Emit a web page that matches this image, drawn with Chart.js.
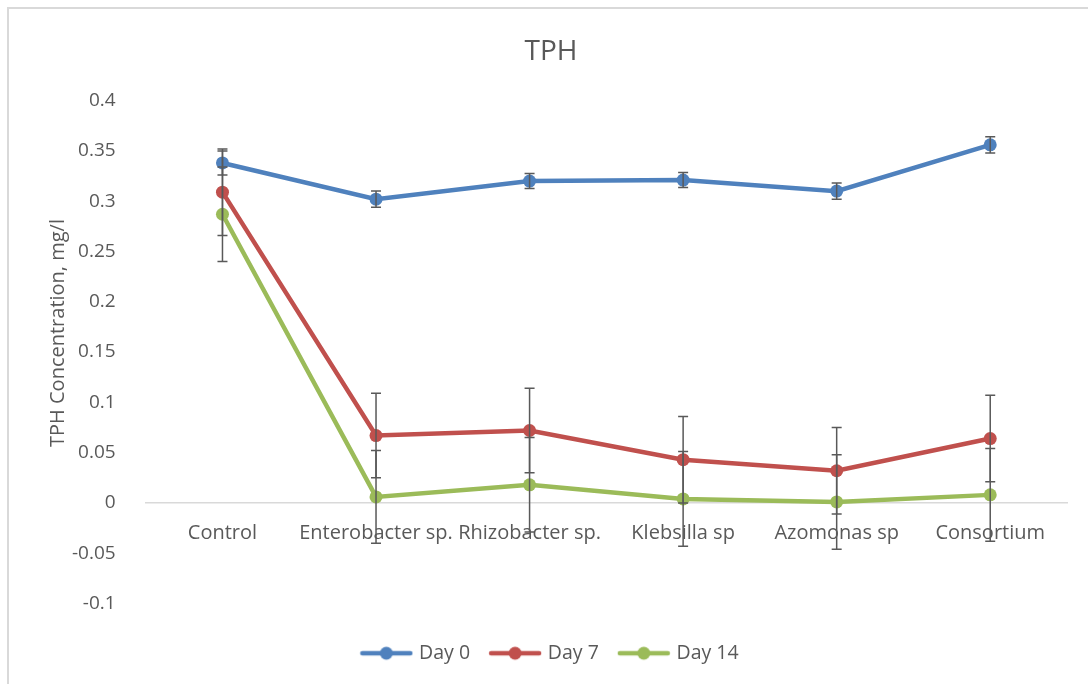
<!DOCTYPE html>
<html>
<head>
<meta charset="utf-8">
<script src="https://cdn.jsdelivr.net/npm/chart.js@4/dist/chart.umd.min.js"></script>
<style>
  html, body { margin: 0; padding: 0; background: #fff; overflow: hidden; }
  #wrap { position: relative; width: 1088px; height: 684px; }
  #frame { position: absolute; left: 7px; top: 7px; width: 1100px; height: 700px; border: 2px solid #d9d9d9; box-sizing: border-box; pointer-events: none; }
  canvas { position: absolute; left: 0; top: 0; }
</style>
</head>
<body>
<div id="wrap">
  <canvas id="c" width="1088" height="684"></canvas>
  <div id="frame"></div>
</div>
<script>
const categories = ["Control", "Enterobacter sp.", "Rhizobacter sp.", "Klebsilla sp", "Azomonas sp", "Consortium"];
const day0 = [0.338, 0.302, 0.320, 0.321, 0.310, 0.356];
const day7 = [0.309, 0.067, 0.072, 0.043, 0.032, 0.064];
const day14 = [0.287, 0.006, 0.018, 0.004, 0.001, 0.008];
const err0 = [0.012, 0.008, 0.0075, 0.0075, 0.008, 0.008];
const err7 = [0.043, 0.042, 0.042, 0.043, 0.043, 0.043];
const err14 = [0.047, 0.046, 0.047, 0.047, 0.047, 0.046];
const yTicks = [0.4, 0.35, 0.3, 0.25, 0.2, 0.15, 0.1, 0.05, 0, -0.05, -0.1];
const seriesNames = ["Day 0", "Day 7", "Day 14"];
const seriesColors = ["#4F81BD", "#C0504D", "#9BBB59"];
const yTitle = "TPH Concentration, mg/l";

const FONT = "'Open Sans', 'Noto Sans', sans-serif";
const TXT = "#595959";

function legendIcon(color) {
  const c = document.createElement('canvas');
  c.width = 54; c.height = 16;
  const g = c.getContext('2d');
  g.strokeStyle = color; g.lineWidth = 4.5; g.lineCap = 'round';
  g.beginPath(); g.moveTo(3, 8); g.lineTo(51, 8); g.stroke();
  g.fillStyle = color;
  g.beginPath(); g.arc(27, 8, 6.5, 0, Math.PI * 2); g.fill();
  return c;
}

const errorBars = {
  id: 'errorBars',
  afterDatasetsDraw(chart) {
    const ctx = chart.ctx;
    const x = chart.scales.x, y = chart.scales.y;
    const errs = [err0, err7, err14];
    ctx.save();
    ctx.strokeStyle = '#595959';
    ctx.lineWidth = 1.5;
    chart.data.datasets.forEach((ds, i) => {
      ds.data.forEach((v, j) => {
        const px = x.getPixelForValue(j);
        const top = y.getPixelForValue(v + errs[i][j]);
        const bot = y.getPixelForValue(v - errs[i][j]);
        ctx.beginPath();
        ctx.moveTo(px, top); ctx.lineTo(px, bot);
        ctx.moveTo(px - 5, top); ctx.lineTo(px + 5, top);
        ctx.moveTo(px - 5, bot); ctx.lineTo(px + 5, bot);
        ctx.stroke();
      });
    });
    ctx.restore();
  }
};

const yTitlePlugin = {
  id: 'yTitlePlugin',
  afterDraw(chart) {
    const ctx = chart.ctx;
    ctx.save();
    ctx.translate(58, 333);
    ctx.rotate(-Math.PI / 2);
    ctx.fillStyle = TXT;
    ctx.font = "20px " + FONT;
    ctx.textAlign = 'center';
    ctx.textBaseline = 'middle';
    ctx.fillText(yTitle, 0, 0);
    ctx.restore();
  }
};

const datasets = [day0, day7, day14].map((d, i) => ({
  label: seriesNames[i],
  data: d,
  borderColor: seriesColors[i],
  backgroundColor: seriesColors[i],
  borderWidth: 4.5,
  pointRadius: 6.5,
  pointHoverRadius: 6.5,
  pointBorderWidth: 0,
  tension: 0,
  order: 3 - i
}));

new Chart(document.getElementById('c'), {
  type: 'line',
  data: { labels: categories, datasets },
  plugins: [errorBars, yTitlePlugin],
  options: {
    responsive: false,
    animation: false,
    events: [],
    layout: { padding: { left: 35, right: 21, top: 6, bottom: 11 } },
    plugins: {
      title: {
        display: true, text: 'TPH', color: TXT,
        font: { family: FONT, size: 28, weight: 'normal' },
        padding: { top: 29, bottom: 32 }
      },
      legend: {
        position: 'bottom',
        title: { display: true, text: ' ', font: { size: 10 }, padding: { top: 6, bottom: 0 } },
        labels: {
          color: TXT,
          font: { family: FONT, size: 19.5 },
          usePointStyle: true,
          pointStyleWidth: 46,
          boxHeight: 14,
          padding: 22,
          generateLabels(chart) {
            return chart.data.datasets.map((ds, i) => ({
              text: ds.label,
              fillStyle: seriesColors[i],
              strokeStyle: seriesColors[i],
              lineWidth: 0,
              pointStyle: legendIcon(seriesColors[i]),
              fontColor: TXT,
              datasetIndex: i,
              hidden: false
            }));
          }
        }
      },
      tooltip: { enabled: false }
    },
    scales: {
      x: {
        type: 'category',
        position: { y: 0 },
        offset: true,
        grid: { display: false },
        border: { display: true, color: '#d9d9d9', width: 1.5 },
        ticks: { color: TXT, font: { family: FONT, size: 20 }, padding: 10, maxRotation: 0, autoSkip: false }
      },
      y: {
        min: -0.1, max: 0.4,
        afterBuildTicks(scale) { scale.ticks = yTicks.map(v => ({ value: v })); },
        grid: { display: false },
        border: { display: false },
        ticks: {
          color: TXT, font: { family: FONT, size: 19 }, padding: 22,
          callback: (v) => String(Math.round(v * 100) / 100)
        },
        afterFit(scale) { scale.width += 15; }
      }
    }
  }
});
</script>
</body>
</html>
